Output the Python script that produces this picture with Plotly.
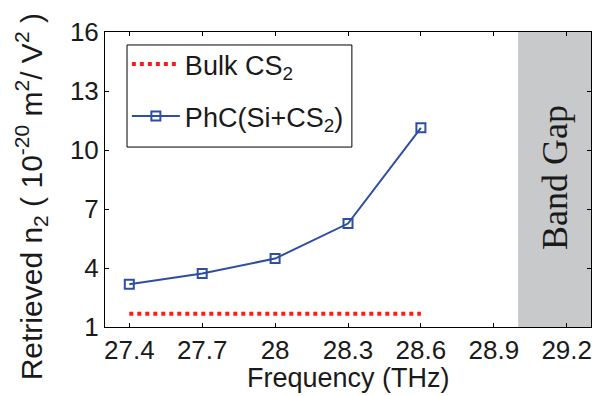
import plotly.graph_objects as go

freq = [27.4, 27.7, 28.0, 28.3, 28.6]
n2_phc = [3.17, 3.72, 4.48, 6.26, 11.13]
bulk_freq = [27.4, 28.6]
n2_bulk = [1.68, 1.68]
band_gap = [29.0, 29.3]
x_ticks = [27.4, 27.7, 28.0, 28.3, 28.6, 28.9, 29.2]
x_tick_labels = ["27.4", "27.7", "28", "28.3", "28.6", "28.9", "29.2"]
y_ticks = [1, 4, 7, 10, 13, 16]

FONT = "Liberation Sans"
TXT = "#1a1a1a"

fig = go.Figure()
fig.add_trace(go.Scatter(
    x=bulk_freq, y=n2_bulk, mode="lines", name="Bulk CS<sub>2</sub>",
    line=dict(color="#ff1a1a", width=4, dash="4px,4px"), legendgroup="a"))
fig.add_trace(go.Scatter(
    x=freq, y=n2_phc, mode="lines+markers", name="PhC(Si+CS<sub>2</sub>)",
    line=dict(color="#2d4ea3", width=2),
    marker=dict(symbol="square-open", size=9, color="#2d4ea3", line=dict(width=2)),
    legendgroup="b"))

fig.add_shape(type="rect", xref="x", yref="y", x0=band_gap[0], x1=band_gap[1], y0=1, y1=16,
              fillcolor="#c8c9cb", line=dict(width=0), layer="below")
fig.add_annotation(x=(band_gap[0] + band_gap[1]) / 2, y=8.6, xref="x", yref="y",
                   text="Band Gap", showarrow=False, textangle=-90,
                   font=dict(family="Liberation Serif", size=36, color=TXT))

# legend frame
fig.add_shape(type="rect", xref="paper", yref="paper", x0=0.0453, x1=0.508, y0=0.610, y1=0.956,
              line=dict(color="black", width=1), fillcolor="rgba(0,0,0,0)", layer="above")

# axis titles as annotations
fig.add_annotation(x=-0.152, y=0.44, xref="paper", yref="paper",
                   text="Retrieved n<sub>2</sub> ( 10<sup>-20</sup> m<sup>2</sup>/ V<sup>2</sup> )",
                   showarrow=False, textangle=-90, xanchor="center", yanchor="middle",
                   font=dict(family=FONT, size=30, color=TXT))
fig.add_annotation(x=0.5, y=-0.172, xref="paper", yref="paper",
                   text="Frequency (THz)", showarrow=False, xanchor="center", yanchor="middle",
                   font=dict(family=FONT, size=27, color=TXT))

axis_common = dict(showline=True, linecolor="black", linewidth=1, mirror="ticks",
                   ticks="inside", ticklen=4, tickcolor="black", showgrid=False, zeroline=False,
                   tickfont=dict(family=FONT, size=26, color=TXT))
fig.update_xaxes(range=[27.3, 29.3], tickvals=x_ticks, ticktext=x_tick_labels, **axis_common)
fig.update_yaxes(range=[1, 16], tickvals=y_ticks, **axis_common)

fig.update_layout(
    width=604, height=396,
    margin=dict(l=105, r=13, t=32, b=69),
    plot_bgcolor="white", paper_bgcolor="white",
    legend=dict(x=0.045, y=0.973, xanchor="left", yanchor="top",
                borderwidth=0, bgcolor="rgba(0,0,0,0)", itemwidth=48,
                tracegroupgap=14, traceorder="grouped",
                font=dict(family=FONT, size=27, color=TXT)),
)

fig.write_html("out.html")
